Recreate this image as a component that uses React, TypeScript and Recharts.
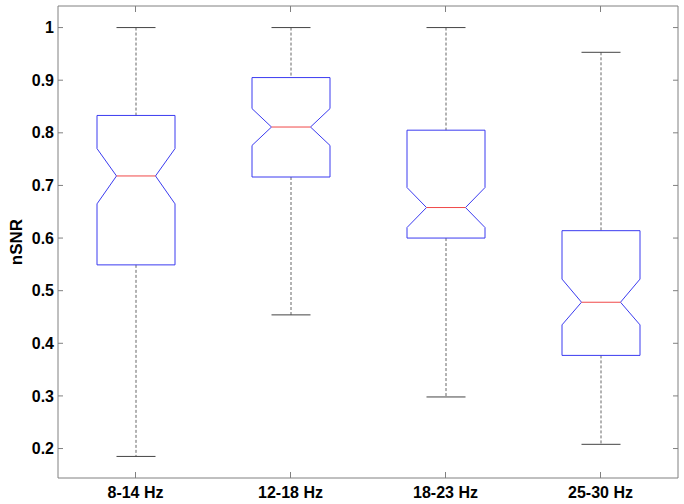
import React from 'react';
import { ComposedChart, Bar, XAxis, YAxis } from 'recharts';

const categories = ['8-14 Hz', '12-18 Hz', '18-23 Hz', '25-30 Hz'];
const whiskerLow = [0.185, 0.454, 0.298, 0.208];
const q1Values = [0.549, 0.716, 0.600, 0.377];
const notchLow = [0.665, 0.776, 0.620, 0.435];
const medians = [0.718, 0.811, 0.658, 0.478];
const notchHigh = [0.770, 0.846, 0.696, 0.522];
const q3Values = [0.833, 0.905, 0.805, 0.614];
const whiskerHigh = [1.0, 1.0, 1.0, 0.953];
const yTicks = [0.2, 0.3, 0.4, 0.5, 0.6, 0.7, 0.8, 0.9, 1];
const yDomain = [0.144, 1.041];

const data = categories.map((name, i) => ({
  name,
  min: whiskerLow[i],
  q1: q1Values[i],
  nlo: notchLow[i],
  med: medians[i],
  nhi: notchHigh[i],
  q3: q3Values[i],
  max: whiskerHigh[i],
}));

const W = 684;
const H = 504;
const PLOT_L = 58;
const PLOT_R = 678;
const PLOT_T = 6;
const PLOT_B = 478;
const LEFT_AXIS_W = 50;
const RIGHT_AXIS_W = 2;
const TOP_AXIS_H = 2;
const BOTTOM_AXIS_H = 20;
const M = {
  top: PLOT_T - TOP_AXIS_H,
  right: W - PLOT_R - RIGHT_AXIS_W,
  bottom: H - PLOT_B - BOTTOM_AXIS_H,
  left: PLOT_L - LEFT_AXIS_W,
};
const FONT = '"Liberation Sans", Arial, sans-serif';
const AXIS_COLOR = '#808080';
const BOX_COLOR = '#3b3bf0';
const MED_COLOR = '#f04848';

const BoxShape = (props: any) => {
  const { x, y, width, height, payload } = props;
  const top = Math.min(y, y + height);
  const h = Math.abs(height);
  const k = h / (payload.max - payload.min);
  const yOf = (v: number) => top + (payload.max - v) * k;
  const L = x;
  const R = x + width;
  const cx = x + width / 2;
  const inset = width / 4;
  const capHalf = width / 4;
  const pts = [
    [L, yOf(payload.q3)],
    [R, yOf(payload.q3)],
    [R, yOf(payload.nhi)],
    [R - inset, yOf(payload.med)],
    [R, yOf(payload.nlo)],
    [R, yOf(payload.q1)],
    [L, yOf(payload.q1)],
    [L, yOf(payload.nlo)],
    [L + inset, yOf(payload.med)],
    [L, yOf(payload.nhi)],
  ]
    .map((p) => p.join(','))
    .join(' ');
  return (
    <g>
      <line x1={cx} x2={cx} y1={yOf(payload.max)} y2={yOf(payload.q3)} stroke="#666" strokeWidth={1} strokeDasharray="3 2" />
      <line x1={cx} x2={cx} y1={yOf(payload.q1)} y2={yOf(payload.min)} stroke="#666" strokeWidth={1} strokeDasharray="3 2" />
      <line x1={cx - capHalf} x2={cx + capHalf} y1={yOf(payload.max)} y2={yOf(payload.max)} stroke="#444" strokeWidth={1} />
      <line x1={cx - capHalf} x2={cx + capHalf} y1={yOf(payload.min)} y2={yOf(payload.min)} stroke="#444" strokeWidth={1} />
      <polygon points={pts} fill="none" stroke={BOX_COLOR} strokeWidth={1} />
      <line x1={L + inset} x2={R - inset} y1={yOf(payload.med)} y2={yOf(payload.med)} stroke={MED_COLOR} strokeWidth={1} />
    </g>
  );
};

const YTick = (props: any) => {
  const { payload } = props;
  const yy = payload.coordinate;
  return (
    <g>
      <line x1={PLOT_L} x2={PLOT_L + 5} y1={yy} y2={yy} stroke={AXIS_COLOR} />
      <line x1={PLOT_R - 5} x2={PLOT_R} y1={yy} y2={yy} stroke={AXIS_COLOR} />
      <text x={PLOT_L - 4} y={yy} dy="0.35em" textAnchor="end" fontFamily={FONT} fontWeight="bold" fontSize={16} fill="#000">
        {String(payload.value)}
      </text>
    </g>
  );
};

const XTick = (props: any) => {
  const { payload } = props;
  const xx = payload.coordinate;
  return (
    <g>
      <line x1={xx} x2={xx} y1={PLOT_B} y2={PLOT_B - 6} stroke={AXIS_COLOR} />
      <line x1={xx} x2={xx} y1={PLOT_T} y2={PLOT_T + 6} stroke={AXIS_COLOR} />
      <text x={xx} y={492} dy="0.35em" textAnchor="middle" fontFamily={FONT} fontWeight="bold" fontSize={16} fill="#000">
        {payload.value}
      </text>
    </g>
  );
};

const YLabel = () => (
  <text x={16} y={242} transform="rotate(-90 16 242)" textAnchor="middle" dy="0.35em" fontFamily={FONT} fontWeight="bold" fontSize={17} fill="#000">
    nSNR
  </text>
);

export default function App() {
  return (
    <div style={{ position: 'absolute', left: 0, top: 0, width: W, height: H, background: '#fff' }}>
      <ComposedChart width={W} height={H} data={data} margin={M}>
        <XAxis
          dataKey="name"
          xAxisId="bottom"
          orientation="bottom"
          height={BOTTOM_AXIS_H}
          axisLine={{ stroke: AXIS_COLOR }}
          tickLine={false}
          tick={<XTick />}
          interval={0}
        />
        <XAxis dataKey="name" xAxisId="top" orientation="top" height={TOP_AXIS_H} axisLine={{ stroke: AXIS_COLOR }} tickLine={false} tick={false} />
        <YAxis
          yAxisId="left"
          width={LEFT_AXIS_W}
          domain={yDomain}
          ticks={yTicks}
          allowDataOverflow
          type="number"
          axisLine={{ stroke: AXIS_COLOR }}
          tickLine={false}
          tick={<YTick />}
          interval={0}
          label={{ content: () => <YLabel /> }}
        />
        <YAxis yAxisId="right" orientation="right" width={RIGHT_AXIS_W} domain={yDomain} allowDataOverflow type="number" axisLine={{ stroke: AXIS_COLOR }} tickLine={false} tick={false} />
        <Bar
          xAxisId="bottom"
          yAxisId="left"
          dataKey={(d: any) => [d.min, d.max]}
          barSize={78}
          shape={<BoxShape />}
          isAnimationActive={false}
        />
      </ComposedChart>
    </div>
  );
}
